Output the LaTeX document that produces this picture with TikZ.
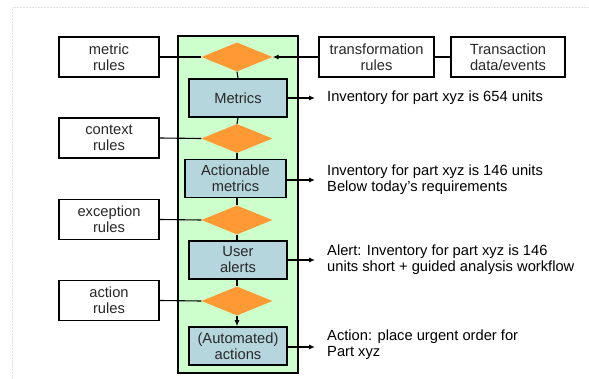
\documentclass[tikz,border=0pt]{standalone}
\usepackage{fontspec}
\setmainfont{Liberation Sans}
\usetikzlibrary{shapes.geometric,arrows.meta}
\definecolor{lanegreen}{RGB}{204,255,204}
\definecolor{stepblue}{RGB}{182,214,222}
\definecolor{rulegold}{RGB}{255,153,51}
\definecolor{frameGray}{RGB}{225,225,225}
\definecolor{textdark}{RGB}{40,40,40}
\tikzset{
  x=1pt, y=-1pt,
  every node/.style={font=\fontsize{14.7}{16}\selectfont, inner sep=0pt},
  rulebox/.style={draw=black, line width=1.6pt, fill=white, minimum width=100pt, minimum height=40pt, align=center, text=textdark},
  stepbox/.style={draw=black, line width=1.6pt, fill=stepblue, minimum width=98pt, minimum height=38pt, align=center, text=textdark},
  gate/.style={diamond, draw=none, fill=rulegold, minimum width=71pt, minimum height=29pt, aspect=2.45},
  wire/.style={line width=1.1pt, draw=black},
  arr/.style={wire, -{Latex[length=6pt,width=5pt]}},
  note/.style={align=left, anchor=west, text=black}
}
\begin{document}
\begin{tikzpicture}
\useasboundingbox (0,0) rectangle (589,379);
% faint page frame
\draw[frameGray, line width=0.8pt, dash pattern=on 2pt off 1pt] (12,380) -- (12,7) -- (589,7);
% processing lane
\node[draw=black, line width=1.8pt, fill=lanegreen, minimum width=120pt, minimum height=337pt, anchor=north west] (lane) at (177,35) {};
% rule gates
\node[gate] (g1) at (237,57) {};
\node[gate] (g2) at (237,138.5) {};
\node[gate] (g3) at (237,220) {};
\node[gate] (g4) at (237,301) {};
% steps
\node[stepbox] (s1) at (238,98) {Metrics};
\node[stepbox, minimum width=101pt] (s2) at (235.5,178.5) {Actionable\\metrics};
\node[stepbox] (s3) at (238,260) {User\\alerts};
\node[stepbox] (s4) at (238,346) {(Automated)\\actions};
% rule sources
\node[rulebox] (r1) at (109,57) {metric\\rules};
\node[rulebox] (r2) at (109,138) {context\\rules};
\node[rulebox] (r3) at (109,219.5) {exception\\rules};
\node[rulebox] (r4) at (109,300.5) {action\\rules};
\node[rulebox, minimum width=115pt] (tr) at (376.5,57) {transformation\\rules};
\node[rulebox, minimum width=114pt] (td) at (508,57) {Transaction\\data/events};
% flow down the lane
\draw[wire] (g1.south) -- (s1.north);
\draw[wire] (s1.south) -- (g2.north);
\draw[wire] (g2.south) -- (s2.north -| g2.south);
\draw[wire] (s2.south -| g3.north) -- (g3.north);
\draw[wire] (g3.south) -- (s3.north -| g3.south);
\draw[wire] (s3.south -| g4.north) -- (g4.north);
\draw[arr] (g4.south) -- (s4.north -| g4.south);
% rules into gates
\draw[wire] (r1.east) -- (g1.west);
\draw[wire] (r2.east) -- (g2.west);
\draw[wire] (r3.east) -- (g3.west);
\draw[wire] (r4.east) -- (g4.west);
\draw[wire] (td.west) -- (tr.east);
\draw[arr] (tr.west) -- (g1.east);
% outputs
\coordinate (o1) at (315,98);
\coordinate (o2) at (315,180);
\coordinate (o3) at (315,260);
\coordinate (o4) at (315,347);
\draw[arr] (s1.east |- o1) -- (o1);
\draw[arr] (s2.east |- o2) -- (o2);
\draw[arr] (s3.east |- o3) -- (o3);
\draw[arr] (s4.east |- o4) -- (o4);
\node[note] (n1) at (327,98) {Inventory for part xyz is 654 units};
\node[note] (n2) at (327,180) {Inventory for part xyz is 146 units\\Below today’s requirements};
\node[note] (n3) at (327,260) {Alert: Inventory for part xyz is 146\\units short + guided analysis workflow};
\node[note] (n4) at (327,345) {Action: place urgent order for\\Part xyz};
\end{tikzpicture}
\end{document}
